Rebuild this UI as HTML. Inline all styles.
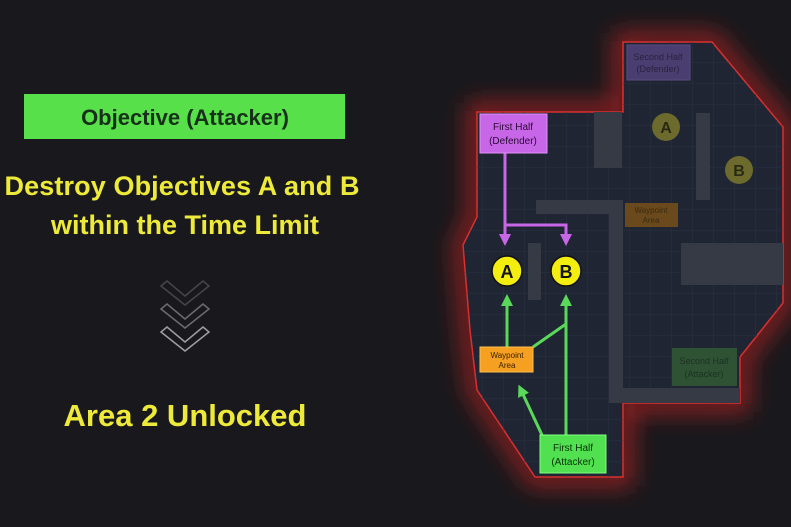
<!DOCTYPE html>
<html><head><meta charset="utf-8"><style>
body{margin:0;width:791px;height:527px;background:#19191d;overflow:hidden;font-family:"Liberation Sans",sans-serif}
</style></head><body>
<svg width="791" height="527" viewBox="0 0 791 527" xmlns="http://www.w3.org/2000/svg" style="position:absolute;left:0;top:0">
<defs>
<filter id="glow" x="-30%" y="-30%" width="160%" height="160%"><feGaussianBlur stdDeviation="12"/></filter>
<pattern id="grid" width="21" height="21" patternUnits="userSpaceOnUse"><path d="M21 0V21H0" fill="none" stroke="#2a3140" stroke-width="1"/></pattern>
<marker id="ap" markerWidth="4" markerHeight="4" refX="2" refY="2" orient="auto" markerUnits="strokeWidth"><path d="M0,0L4,2L0,4z" fill="#c866e8"/></marker>
<marker id="ag" markerWidth="4" markerHeight="4" refX="2" refY="2" orient="auto" markerUnits="strokeWidth"><path d="M0,0L4,2L0,4z" fill="#5ad85a"/></marker>
</defs>
<rect x="24" y="94" width="321" height="45" fill="#57e04a"/>
<text x="185" y="125" text-anchor="middle" font-size="22" font-weight="bold" fill="#16301a">Objective (Attacker)</text>
<text x="182" y="195" text-anchor="middle" font-size="27" font-weight="bold" fill="#eeea3a" textLength="355">Destroy Objectives A and B</text>
<text x="185" y="234" text-anchor="middle" font-size="27" font-weight="bold" fill="#eeea3a">within the Time Limit</text>
<g fill="none" stroke-width="1.5">
<path d="M161 286L185 305L209 286L203 281L185 296L167 281Z" stroke="#46464a"/>
<path d="M161 309L185 328L209 309L203 304L185 319L167 304Z" stroke="#6c6c70"/>
<path d="M161 332L185 351L209 332L203 327L185 342L167 327Z" stroke="#9e9ea2"/>
</g>
<text x="185" y="426" text-anchor="middle" font-size="31" font-weight="bold" fill="#eeea3a">Area 2 Unlocked</text>
<g id="map">
<path d="M623 42L712 42L783 127L783 303L740 357L740 403L623 403L623 477L535 477L477 390L470 330L463 245L477 217L477 112L623 112Z" fill="none" stroke="#b02020" stroke-width="18" filter="url(#glow)" opacity="0.85"/>
<path d="M623 42L712 42L783 127L783 303L740 357L740 403L623 403L623 477L535 477L477 390L470 330L463 245L477 217L477 112L623 112Z" fill="#1f2533" stroke="#d83030" stroke-width="1.5"/>
<path d="M623 42L712 42L783 127L783 303L740 357L740 403L623 403L623 477L535 477L477 390L470 330L463 245L477 217L477 112L623 112Z" fill="url(#grid)"/>
<g fill="#353a45">
<rect x="594" y="112" width="28" height="56"/>
<rect x="696" y="113" width="14" height="87"/>
<rect x="536" y="200" width="80" height="14"/>
<rect x="609" y="200" width="14" height="203"/>
<rect x="623" y="388" width="117" height="15"/>
<rect x="681" y="243" width="102" height="42"/>
<rect x="528" y="243" width="13" height="57"/>
</g>
<rect x="627" y="45" width="63" height="35" fill="#4a3d70" stroke="#5a4a80"/>
<text x="658" y="60" text-anchor="middle" font-size="9" fill="#2a2240">Second Half</text>
<text x="658" y="72" text-anchor="middle" font-size="9" fill="#2a2240">(Defender)</text>
<circle cx="666" cy="127" r="14" fill="#6c6a2c"/><text x="666" y="133" text-anchor="middle" font-size="16" font-weight="bold" fill="#2a2a14">A</text>
<circle cx="739" cy="170" r="14" fill="#6c6a2c"/><text x="739" y="176" text-anchor="middle" font-size="16" font-weight="bold" fill="#2a2a14">B</text>
<rect x="625" y="203" width="53" height="24" fill="#6a4a1c"/>
<text x="651" y="213" text-anchor="middle" font-size="8" fill="#3a2a10">Waypoint</text>
<text x="651" y="223" text-anchor="middle" font-size="8" fill="#3a2a10">Area</text>
<rect x="672" y="348" width="65" height="38" fill="#2f5235"/>
<text x="704" y="364" text-anchor="middle" font-size="9" fill="#1a3220">Second Half</text>
<text x="704" y="377" text-anchor="middle" font-size="9" fill="#1a3220">(Attacker)</text>
<g stroke="#c866e8" stroke-width="3" fill="none">
<path d="M505 153V225H566V240" marker-end="url(#ap)"/>
<path d="M505 225V240" marker-end="url(#ap)"/>
</g>
<rect x="480" y="114" width="67" height="39" fill="#c866e8" stroke="#e090f5"/>
<text x="513" y="130" text-anchor="middle" font-size="10" fill="#2a0a35">First Half</text>
<text x="513" y="144" text-anchor="middle" font-size="10" fill="#2a0a35">(Defender)</text>
<g stroke="#5ad85a" stroke-width="3" fill="none">
<path d="M507 347V300" marker-end="url(#ag)"/>
<path d="M566 435V300" marker-end="url(#ag)"/>
<path d="M533 347L566 324"/>
<path d="M542 435L521 390" marker-end="url(#ag)"/>
</g>
<circle cx="507" cy="271" r="15" fill="#f3ee10" stroke="#111" stroke-width="1.5"/><text x="507" y="278" text-anchor="middle" font-size="18" font-weight="bold" fill="#111">A</text>
<circle cx="566" cy="271" r="15" fill="#f3ee10" stroke="#111" stroke-width="1.5"/><text x="566" y="278" text-anchor="middle" font-size="18" font-weight="bold" fill="#111">B</text>
<rect x="480" y="347" width="53" height="25" fill="#f5a020" stroke="#ffc050"/>
<text x="507" y="358" text-anchor="middle" font-size="8" fill="#3a2000">Waypoint</text>
<text x="507" y="368" text-anchor="middle" font-size="8" fill="#3a2000">Area</text>
<rect x="540" y="435" width="66" height="38" fill="#50e050" stroke="#80ff80"/>
<text x="573" y="451" text-anchor="middle" font-size="10" fill="#0a300a">First Half</text>
<text x="573" y="465" text-anchor="middle" font-size="10" fill="#0a300a">(Attacker)</text>
</g>
</svg>
</body></html>
